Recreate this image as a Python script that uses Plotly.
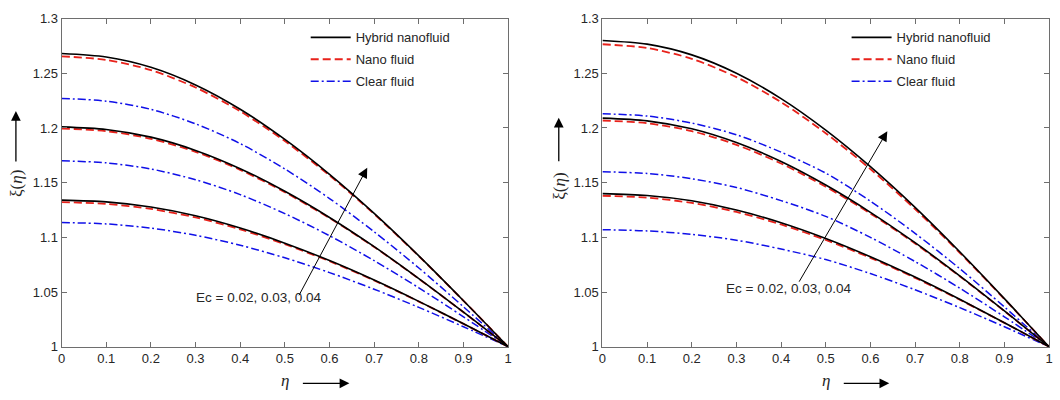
import plotly.graph_objects as go

eta = [0, 0.1, 0.2, 0.3, 0.4, 0.5, 0.6, 0.7, 0.8, 0.9, 1.0]

# Left panel (Ec = 0.02, 0.03, 0.04 from bottom to top)
L_hybrid = [
    [1.134, 1.1324, 1.1277, 1.1197, 1.1085, 1.0947, 1.0788, 1.0610, 1.0415, 1.0210, 1.0],
    [1.201, 1.1986, 1.1916, 1.1795, 1.1628, 1.1421, 1.1182, 1.0915, 1.0623, 1.0316, 1.0],
    [1.268, 1.2648, 1.2554, 1.2393, 1.2171, 1.1895, 1.1576, 1.1219, 1.0831, 1.0421, 1.0],
]
L_nano = [
    [1.1322, 1.1306, 1.1260, 1.1182, 1.1073, 1.0937, 1.0782, 1.0606, 1.0413, 1.0209, 1.0],
    [1.1995, 1.1971, 1.1901, 1.1782, 1.1617, 1.1413, 1.1176, 1.0912, 1.0621, 1.0315, 1.0],
    [1.2655, 1.2622, 1.2529, 1.2370, 1.2152, 1.1880, 1.1566, 1.1213, 1.0828, 1.0420, 1.0],
]
L_clear = [
    [1.1135, 1.1123, 1.1085, 1.1019, 1.0928, 1.0813, 1.0678, 1.0526, 1.0360, 1.0183, 1.0],
    [1.170, 1.1681, 1.1625, 1.1527, 1.1391, 1.1217, 1.1015, 1.0787, 1.0539, 1.0274, 1.0],
    [1.227, 1.2245, 1.2170, 1.2038, 1.1857, 1.1625, 1.1355, 1.1051, 1.0720, 1.0365, 1.0],
]

# Right panel
R_hybrid = [
    [1.140, 1.1383, 1.1334, 1.1250, 1.1134, 1.0990, 1.0823, 1.0637, 1.0434, 1.0220, 1.0],
    [1.209, 1.2065, 1.1992, 1.1866, 1.1693, 1.1478, 1.1229, 1.0951, 1.0648, 1.0328, 1.0],
    [1.280, 1.2766, 1.2668, 1.2500, 1.2268, 1.1980, 1.1646, 1.1274, 1.0868, 1.0440, 1.0],
]
R_nano = [
    [1.138, 1.1363, 1.1315, 1.1232, 1.1118, 1.0976, 1.0813, 1.0630, 1.0430, 1.0218, 1.0],
    [1.2068, 1.2043, 1.1971, 1.1846, 1.1675, 1.1463, 1.1218, 1.0944, 1.0644, 1.0326, 1.0],
    [1.2765, 1.2731, 1.2632, 1.2465, 1.2236, 1.1952, 1.1624, 1.1258, 1.0859, 1.0436, 1.0],
]
R_clear = [
    [1.107, 1.1059, 1.1027, 1.0974, 1.0893, 1.0797, 1.0669, 1.0521, 1.0358, 1.0183, 1.0],
    [1.160, 1.1584, 1.1536, 1.1456, 1.1336, 1.1192, 1.1000, 1.0779, 1.0536, 1.0274, 1.0],
    [1.213, 1.2109, 1.2045, 1.1938, 1.1779, 1.1587, 1.1331, 1.1037, 1.0714, 1.0364, 1.0],
]

series_names = ["Hybrid nanofluid", "Nano fluid", "Clear fluid"]
annot_text = "Ec = 0.02, 0.03, 0.04"

W, H = 1060, 400
FONT = "Liberation Sans, Arial, sans-serif"
SERIF = "Liberation Serif, Times New Roman, serif"

styles = [
    dict(color="black", width=1.6, dash="solid"),
    dict(color="#e8221b", width=1.8, dash="8px,4px"),
    dict(color="#1010e8", width=1.5, dash="8px,3px,2px,3px"),
]

fig = go.Figure()

# draw order: clear, nano, hybrid so black is on top; legend order fixed by legendrank
def add_panel_ordered(hyb, nano, clear, xa, ya, legend_name):
    groups = [hyb, nano, clear]
    for si in [2, 1, 0]:
        for ci, ys in enumerate(groups[si]):
            fig.add_trace(go.Scatter(
                x=eta, y=ys, mode="lines", line=dict(shape="spline", smoothing=0.8, **styles[si]),
                name=series_names[si], legendgroup=f"{legend_name}{si}",
                showlegend=(ci == 0), legend=legend_name, legendrank=si + 1,
                xaxis=xa, yaxis=ya, hoverinfo="skip",
            ))

add_panel_ordered(L_hybrid, L_nano, L_clear, "x", "y", "legend")
add_panel_ordered(R_hybrid, R_nano, R_clear, "x2", "y2", "legend2")

ax_common = dict(
    showline=True, linecolor="#6e6e6e", linewidth=1, mirror="ticks",
    ticks="inside", ticklen=5, tickcolor="#6e6e6e", tickwidth=1,
    showgrid=False, zeroline=False,
    tickfont=dict(family=FONT, size=13, color="#262626"),
)

legend_common = dict(xanchor="left", yanchor="top", bgcolor="rgba(0,0,0,0)",
                     font=dict(family=FONT, size=13, color="#262626"),
                     traceorder="grouped", tracegroupgap=2, itemwidth=40)

y_dom = [1 - 353 / H, 1 - 12 / H]
fig.update_layout(
    width=W, height=H, margin=dict(l=0, r=0, t=0, b=0),
    paper_bgcolor="white", plot_bgcolor="white",
    xaxis=dict(domain=[58 / W, 508 / W], range=[0, 1], dtick=0.1, tick0=0, anchor="y", **ax_common),
    yaxis=dict(domain=y_dom, range=[1, 1.3], dtick=0.05, tick0=1, anchor="x", **ax_common),
    xaxis2=dict(domain=[603 / W, 1053 / W], range=[0, 1], dtick=0.1, tick0=0, anchor="y2", **ax_common),
    yaxis2=dict(domain=y_dom, range=[1, 1.3], dtick=0.05, tick0=1, anchor="x2", **ax_common),
    legend=dict(x=304 / W, y=1 - 16 / H, **legend_common),
    legend2=dict(x=849 / W, y=1 - 16 / H, **legend_common),
    showlegend=True,
)

def arrow(hx, hy, tx, ty, size=1.6, width=1.2):
    fig.add_annotation(x=hx / W, y=1 - hy / H, xref="paper", yref="paper",
                       ax=tx - hx, ay=ty - hy, axref="pixel", ayref="pixel",
                       text="", showarrow=True, arrowhead=2, arrowsize=size,
                       arrowwidth=width, arrowcolor="black")

def label(px, py, text, size=13, family=FONT, angle=0):
    fig.add_annotation(x=px / W, y=1 - py / H, xref="paper", yref="paper",
                       text=text, showarrow=False, textangle=angle,
                       font=dict(family=family, size=size, color="#262626"),
                       xanchor="center", yanchor="middle")

# Ec arrows and labels
arrow(366, 167, 297, 296, size=2.0, width=1)
arrow(890, 129, 801, 281, size=2.0, width=1)
label(256, 302, annot_text, size=13.5)
label(790, 292, annot_text, size=13.5)

# axis titles with arrows
for (ex, ax0, ax1) in [(283, 300, 348), (828, 845, 892)]:
    label(ex, 388, "<i>η</i>", size=17, family=SERIF)
    arrow(ax1, 391, ax0, 391, size=1.5, width=1.3)

for (yx, tip, bot, ty) in [(12, 108, 160, 183), (559, 115, 160, 186)]:
    arrow(yx, tip, yx, bot, size=1.5, width=1.3)
    label(yx, ty, "ξ(<i>η</i>)", size=17, family=SERIF, angle=-90)

fig.write_html("out.html")
